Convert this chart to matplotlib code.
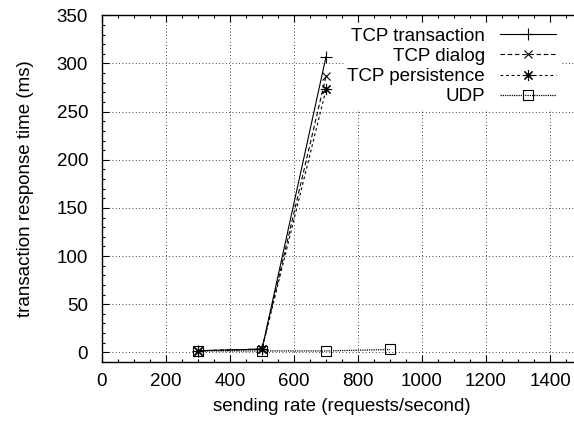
import matplotlib
matplotlib.use("Agg")
import matplotlib.pyplot as plt
from matplotlib.ticker import MultipleLocator

plt.rcParams['font.family'] = ['Liberation Sans', 'DejaVu Sans']
plt.rcParams['font.size'] = 13.5

# sending rate (requests/second)
rate_tcp = [300, 500, 700]
rate_udp = [300, 500, 700, 900]

# transaction response time (ms)
tcp_transaction = [1.7, 3.4, 307]
tcp_dialog = [1.7, 3.4, 287]
tcp_persistence = [1.7, 3.4, 273]
udp = [1.5, 1.5, 1.5, 3.0]

fig = plt.figure(figsize=(5.74, 4.26), dpi=100)
# gnuplot output was cropped on the right, so the axes run past the figure edge
ax = fig.add_axes([0.1777, 0.1502, 1.014 - 0.1777, 0.964 - 0.1502])

ax.plot(rate_tcp, tcp_transaction, color='black', lw=0.8, ls='-',
        marker='+', ms=8, mew=0.8, label='TCP transaction')
ax.plot(rate_tcp, tcp_dialog, color='black', lw=0.8, ls=(0, (4, 2.5)),
        marker='x', ms=6, mew=0.8, label='TCP dialog')
ax.plot(rate_tcp, tcp_persistence, color='black', lw=0.8, ls=(0, (2.5, 2.5)),
        marker=(8, 2, 0), ms=8, mew=0.8, label='TCP persistence')
ax.plot(rate_udp, udp, color='black', lw=0.9, ls=(0, (1, 0.8)),
        marker='s', ms=7, mew=0.8, mfc='none', label='UDP')

ax.set_xlim(0, 1500)
ax.set_ylim(-10, 350)
ax.xaxis.set_minor_locator(MultipleLocator(50))
ax.yaxis.set_major_locator(MultipleLocator(50))
ax.yaxis.set_minor_locator(MultipleLocator(10))
ax.set_xticks(range(0, 1401, 200))
ax.tick_params(which='both', direction='in', top=True, right=True, width=0.8)
ax.tick_params(which='major', length=5)
ax.tick_params(which='minor', length=2.5)
ax.tick_params(axis='x', which='major', pad=8)
ax.tick_params(axis='y', which='major', pad=10)
ax.grid(True, which='major', color='black', ls=(0, (1, 3)), lw=0.6)
for s in ax.spines.values():
    s.set_linewidth(1.0)

ax.set_xlabel('sending rate (requests/second)', labelpad=6)
ax.set_ylabel('transaction response time (ms)', labelpad=16)

leg = ax.legend(loc='upper right', bbox_to_anchor=(0.954, 0.975),
                markerfirst=False, frameon=True, fancybox=False,
                handlelength=3.0, handletextpad=0.8, labelspacing=0.16,
                borderpad=0.2, borderaxespad=0, numpoints=1)
leg.get_frame().set_edgecolor('none')
leg.get_frame().set_facecolor('white')
leg.get_frame().set_alpha(1)

fig.savefig('out.png', dpi=100)
